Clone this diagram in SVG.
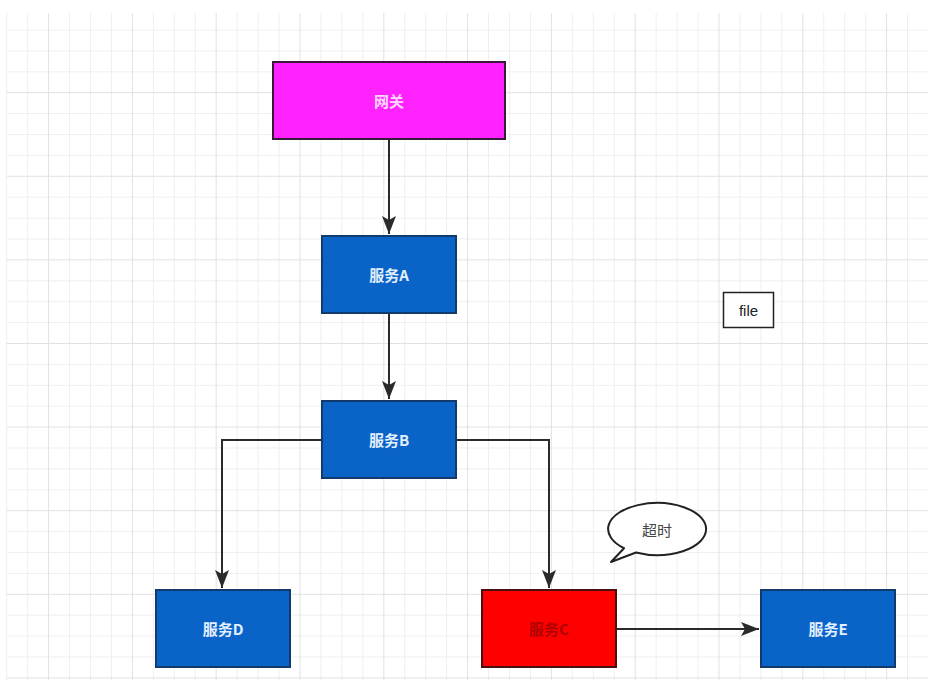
<svg xmlns="http://www.w3.org/2000/svg" width="928" height="680" viewBox="0 0 928 680">
<defs>
<style>
.minor{stroke:#efefef;stroke-width:1;fill:none}
.major{stroke:#e2e2e2;stroke-width:1;fill:none}
.box{stroke-width:2}
.blue{fill:#0a64c8;stroke:#123a6a}
.lbl{font-family:"Noto Sans CJK SC","Liberation Sans",sans-serif;font-size:15px;font-weight:bold;text-anchor:middle;dominant-baseline:central}
.light{fill:#e2f0ff}
.edge{stroke:#2a2a2a;stroke-width:2;fill:none}
</style>
<marker id="arr" markerUnits="userSpaceOnUse" markerWidth="20" markerHeight="16" viewBox="0 0 20 16" refX="19" refY="8" orient="auto">
<path d="M1,1 L19,8 L1,15 L5,8 Z" fill="#2a2a2a"/>
</marker>
</defs>
<rect width="928" height="680" fill="#ffffff"/>
<g id="grid">
<path class="minor" d="M6.7,13V680M27.65,13V680M69.55,13V680M90.5,13V680M111.45,13V680M153.35,13V680M174.3,13V680M195.25,13V680M237.15,13V680M258.1,13V680M279.05,13V680M320.95,13V680M341.9,13V680M362.85,13V680M404.75,13V680M425.7,13V680M446.65,13V680M488.55,13V680M509.5,13V680M530.45,13V680M572.35,13V680M593.3,13V680M614.25,13V680M656.15,13V680M677.1,13V680M698.05,13V680M739.95,13V680M760.9,13V680M781.85,13V680M823.75,13V680M844.7,13V680M865.65,13V680M907.55,13V680
M6.7,30H928M6.7,50.9H928M6.7,71.8H928M6.7,113.6H928M6.7,134.5H928M6.7,155.4H928M6.7,197.2H928M6.7,218.1H928M6.7,239H928M6.7,280.8H928M6.7,301.7H928M6.7,322.6H928M6.7,364.4H928M6.7,385.3H928M6.7,406.2H928M6.7,448H928M6.7,468.9H928M6.7,489.8H928M6.7,531.6H928M6.7,552.5H928M6.7,573.4H928M6.7,615.2H928M6.7,636.1H928M6.7,657H928"/>
<path class="major" d="M48.6,13V680M132.4,13V680M216.2,13V680M300,13V680M383.8,13V680M467.6,13V680M551.4,13V680M635.2,13V680M719,13V680M802.8,13V680M886.6,13V680
M6.7,92.7H928M6.7,176.3H928M6.7,259.9H928M6.7,343.5H928M6.7,427.1H928M6.7,510.7H928M6.7,594.3H928M6.7,677.9H928"/>
</g>
<g id="connectors">
<path class="edge" d="M389,140V234" marker-end="url(#arr)"/>
<path class="edge" d="M389,314V399" marker-end="url(#arr)"/>
<path class="edge" d="M321,440H222V588" marker-end="url(#arr)"/>
<path class="edge" d="M456,440H549V588" marker-end="url(#arr)"/>
<path class="edge" d="M617,629H759" marker-end="url(#arr)"/>
</g>
<g id="gateway">
<rect class="box" x="273" y="62" width="232" height="77" fill="#ff22ff" stroke="#3a1a3a"/>
<text class="lbl" x="389" y="100" fill="#ffd6ff">网关</text>
</g>
<g id="serviceA">
<rect class="box blue" x="322" y="236" width="134" height="77"/>
<text class="lbl light" x="389" y="274">服务A</text>
</g>
<g id="serviceB">
<rect class="box blue" x="322" y="401" width="134" height="77"/>
<text class="lbl light" x="389" y="439">服务B</text>
</g>
<g id="serviceD">
<rect class="box blue" x="156" y="590" width="134" height="77"/>
<text class="lbl light" x="223" y="628">服务D</text>
</g>
<g id="serviceC">
<rect class="box" x="482" y="590" width="134" height="77" fill="#ff0000" stroke="#4a1010"/>
<text class="lbl" x="549" y="628" fill="#b00000">服务C</text>
</g>
<g id="serviceE">
<rect class="box blue" x="761" y="590" width="134" height="77"/>
<text class="lbl light" x="828" y="628">服务E</text>
</g>
<g id="timeout">
<path d="M624,548.2 L611,562 L636,552.5 A49,26 0 1 0 624,548.2 Z" fill="#ffffff" stroke="#222222" stroke-width="2" stroke-linejoin="round"/>
<text class="lbl" x="657" y="529" fill="#444444" style="font-weight:normal">超时</text>
</g>
<g id="file">
<rect x="723.5" y="292.5" width="50" height="35" fill="#ffffff" stroke="#222222" stroke-width="1.5"/>
<text x="748.5" y="310" font-family="Liberation Sans, Arial, sans-serif" font-size="15" text-anchor="middle" dominant-baseline="central" fill="#222222">file</text>
</g>
</svg>
